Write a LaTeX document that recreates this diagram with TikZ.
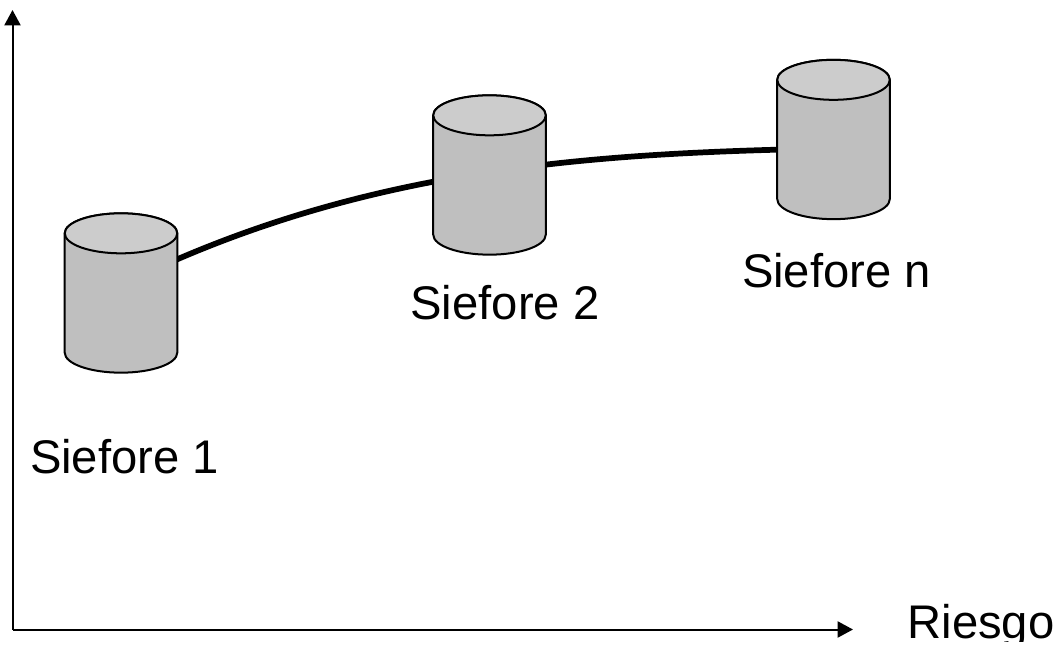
\documentclass[tikz,border=0pt]{standalone}
\usepackage{fontspec}
\setmainfont{Liberation Sans}
\usetikzlibrary{arrows.meta,backgrounds,calc}
\definecolor{siloBody}{gray}{0.75}
\definecolor{siloTop}{gray}{0.8}
\tikzset{
  x=0.75pt,y=-0.75pt,
  silo/.style={rectangle,draw=none,minimum width=84.4pt,minimum height=119.5pt,inner sep=0pt,outer sep=0pt},
  siloline/.style={draw=black,line width=1.5bp,line join=round},
  label/.style={anchor=base west,inner sep=0pt,outer sep=0pt,font=\fontsize{35.4pt}{40pt}\selectfont},
  axis/.style={line width=1.5pt,-{Triangle[length=11.5pt,width=12pt]}},
  curveline/.style={line width=4.3pt}
}
\newcommand{\silodraw}[1]{%
  \path[siloline,fill=siloBody] ($(#1.north west)+(0,20)$) -- ($(#1.south west)+(0,-20)$)
    arc[start angle=180,end angle=360,x radius=42.2pt,y radius=15pt]
    -- ($(#1.north east)+(0,20)$) arc[start angle=0,end angle=180,x radius=42.2pt,y radius=15pt] -- cycle;
  \path[siloline,fill=siloTop] ($(#1.north)+(0,20)$) ellipse[x radius=42.2pt,y radius=15pt];
}
\begin{document}
\begin{tikzpicture}
\useasboundingbox (0,0) rectangle (1060,645);
\coordinate (o) at (12.5,629.5);
\coordinate (ytip) at (12.5,10);
\coordinate (xtip) at (853,629.5);
\draw[axis] (o) -- (ytip);
\draw[axis] (o) -- (xtip);
\node[silo] (s1) at (121,293) {};
\node[silo] (s2) at (489.5,175) {};
\node[silo] (sn) at (833.5,139.5) {};
\draw[curveline] ($(s1.center)+(50,-31)$) .. controls (377,172) and (577,155) .. ($(sn.center)+(-50,10)$);
\silodraw{s1}
\silodraw{s2}
\silodraw{sn}
\node[label] (t1) at (30,473) {Siefore 1};
\node[label] (t2) at (410.5,319.5) {Siefore 2};
\node[label] (tn) at (742,287.5) {Siefore n};
\begin{scope}
\clip (0,0) rectangle (1060,641.5);
\node[label] (tr) at (907.5,638) {Riesgo};
\end{scope}
\end{tikzpicture}
\end{document}
